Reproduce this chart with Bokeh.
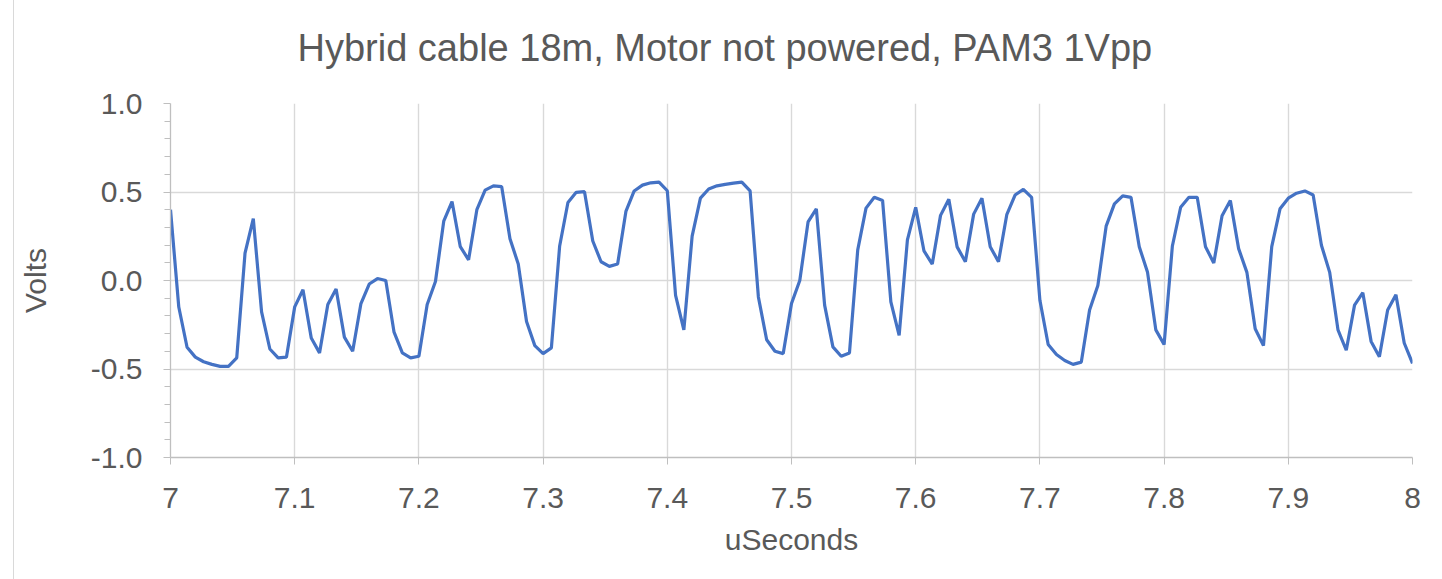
from bokeh.plotting import figure
from bokeh.models import FixedTicker, ColumnDataSource
from bokeh.embed import file_html
from bokeh.resources import INLINE

title_text = "Hybrid cable 18m, Motor not powered, PAM3 1Vpp"
x_label = "uSeconds"
y_label = "Volts"

t_start = 7.0
samples_per_us = 150

volts = [
    0.40, -0.15, -0.377, -0.433, -0.459, -0.474, -0.485, -0.485, -0.437, 0.154,
    0.349, -0.177, -0.387, -0.437, -0.433, -0.149, -0.052, -0.325, -0.409, -0.136,
    -0.048, -0.320, -0.400, -0.130, -0.020, 0.011, 0.0, -0.292, -0.409, -0.437,
    -0.428, -0.136, -0.006, 0.335, 0.446, 0.191, 0.117, 0.400, 0.511, 0.535,
    0.530, 0.236, 0.093, -0.232, -0.368, -0.413, -0.381, 0.195, 0.441, 0.498,
    0.502, 0.223, 0.106, 0.080, 0.093, 0.390, 0.506, 0.539, 0.552, 0.556,
    0.507, -0.084, -0.279, 0.251, 0.465, 0.517, 0.535, 0.543, 0.550, 0.556,
    0.506, -0.093, -0.335, -0.400, -0.413, -0.130, 0.0, 0.331, 0.405, -0.139,
    -0.375, -0.428, -0.409, 0.173, 0.409, 0.470, 0.452, -0.121, -0.310, 0.229,
    0.413, 0.167, 0.093, 0.368, 0.459, 0.190, 0.106, 0.375, 0.465, 0.191,
    0.106, 0.372, 0.483, 0.515, 0.470, -0.112, -0.362, -0.418, -0.452, -0.474,
    -0.461, -0.167, -0.028, 0.307, 0.433, 0.478, 0.470, 0.191, 0.046, -0.279,
    -0.362, 0.195, 0.414, 0.470, 0.470, 0.191, 0.099, 0.366, 0.452, 0.180,
    0.046, -0.273, -0.368, 0.191, 0.405, 0.465, 0.493, 0.506, 0.483, 0.199,
    0.046, -0.279, -0.394, -0.139, -0.069, -0.344, -0.431, -0.167, -0.080, -0.353,
    -0.468,
]
time_us = [t_start + i / samples_per_us for i in range(len(volts))]

x_ticks = [7.0, 7.1, 7.2, 7.3, 7.4, 7.5, 7.6, 7.7, 7.8, 7.9, 8.0]
x_tick_labels = ["7", "7.1", "7.2", "7.3", "7.4", "7.5", "7.6", "7.7", "7.8", "7.9", "8"]
y_ticks = [-1.0, -0.5, 0.0, 0.5, 1.0]
y_tick_labels = ["-1.0", "-0.5", "0.0", "0.5", "1.0"]
y_minor_ticks = [-0.9, -0.8, -0.7, -0.6, -0.4, -0.3, -0.2, -0.1,
                 0.1, 0.2, 0.3, 0.4, 0.6, 0.7, 0.8, 0.9]

FONT = "Liberation Sans"
TXT = "#595959"
GRID = "#d9d9d9"

src = ColumnDataSource(dict(t=time_us, v=volts))

p = figure(width=1428, height=589, output_backend="svg", toolbar_location=None,
           x_range=(7.0, 8.0), y_range=(-1.0, 1.0),
           min_border_left=156, min_border_right=30, min_border_top=113,
           min_border_bottom=122)
p.margin = (-10, 0, 0, 14)
p.styles = {"outline": "1px solid #d9d9d9"}
p.background_fill_color = "white"
p.border_fill_color = "white"
p.outline_line_color = None

p.title.text = title_text
p.title.align = "left"
p.title.offset = 127
p.title.text_font = FONT
p.title.text_font_size = "38px"
p.title.text_font_style = "normal"
p.title.text_color = TXT
p.title.standoff = 69

p.line("t", "v", source=src, line_color="#4472c4", line_width=3.2)

p.xaxis.ticker = FixedTicker(ticks=x_ticks, minor_ticks=[])
p.xaxis.major_label_overrides = dict(zip(x_ticks, x_tick_labels))
p.yaxis.ticker = FixedTicker(ticks=y_ticks, minor_ticks=y_minor_ticks)
p.yaxis.major_label_overrides = dict(zip(y_ticks, y_tick_labels))

for ax in (p.xaxis, p.yaxis):
    ax.axis_line_color = "#bfbfbf"
    ax.axis_line_width = 1.3
    ax.major_tick_line_color = "#bfbfbf"
    ax.minor_tick_line_color = "#bfbfbf"
    ax.major_tick_in = 0
    ax.major_tick_out = 7
    ax.minor_tick_in = 0
    ax.minor_tick_out = 6
    ax.major_label_text_font = FONT
    ax.major_label_text_font_size = "30px"
    ax.major_label_text_color = TXT
    ax.axis_label_text_font = FONT
    ax.axis_label_text_font_size = "30px"
    ax.axis_label_text_font_style = "normal"
    ax.axis_label_text_color = TXT

p.xaxis.axis_label = x_label
p.yaxis.axis_label = y_label
p.xaxis.major_label_standoff = 23
p.yaxis.major_label_standoff = 21
p.xaxis.axis_label_standoff = 12
p.yaxis.axis_label_standoff = 36

p.xgrid.ticker = FixedTicker(ticks=x_ticks)
p.ygrid.ticker = FixedTicker(ticks=y_ticks)
p.grid.grid_line_color = GRID
p.grid.grid_line_width = 1.4

open("out.html", "w").write(file_html(p, INLINE))
